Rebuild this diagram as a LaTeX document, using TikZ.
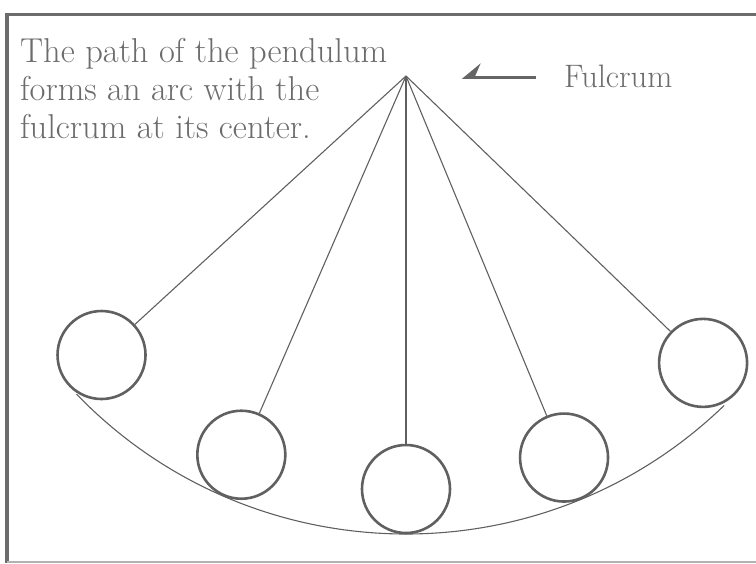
\documentclass[tikz,border=0pt]{standalone}
\usepackage{tikz}
\usetikzlibrary{arrows.meta}

\begin{document}
\begin{tikzpicture}[x=1pt, y=1pt, >=Stealth,
    bob/.style={circle, draw=gray!75!black, line width=2.6pt, minimum size=88pt, inner sep=0pt},
    cord/.style={draw=gray!75!black, line width=1.1pt},
    words/.style={text=gray!85!black, font=\fontsize{34.5}{37.8}\selectfont, align=left, inner sep=0pt}]
  % Frame
  \useasboundingbox (0,0) rectangle (756,-563);
  \draw[gray!85!black, line width=3.5pt] (756,-14.5) -- (7,-14.5) -- (7,-563);
  \draw[gray!60, line width=2pt] (7,-562) -- (756,-562);
  % Fulcrum
  \coordinate (fulcrum) at (406,-76);
  % Bobs hanging from the fulcrum
  \foreach \ang/\name in {222.5/bobA, 246.5/bobB, 270/bobC, 292.5/bobD, 316/bobE} {
    \path (fulcrum) ++(\ang:413) node[bob] (\name) {};
    \draw[cord] (fulcrum) -- (\name);
  }
  % Swing arc
  \draw[cord] (fulcrum) ++(224:458) arc[start angle=224, end angle=314, radius=458];
  % Labels
  \node[words, anchor=base west] (caption) at (20,-138)
    {The path of the pendulum\\forms an arc with the\\fulcrum at its center.};
  \node[words, font=\fontsize{32.5}{37.8}\selectfont, anchor=base west] (fulcrumlabel) at (564,-87.3) {Fulcrum};
  \coordinate (tail) at (536,-77.5);
  \coordinate (tip) at (462,-77.5);
  \draw[gray!80!black, line width=2.5pt, -{Stealth[harpoon, swap, length=17pt, width=28pt, inset=6pt]}] (tail) -- (tip);
\end{tikzpicture}
\end{document}
